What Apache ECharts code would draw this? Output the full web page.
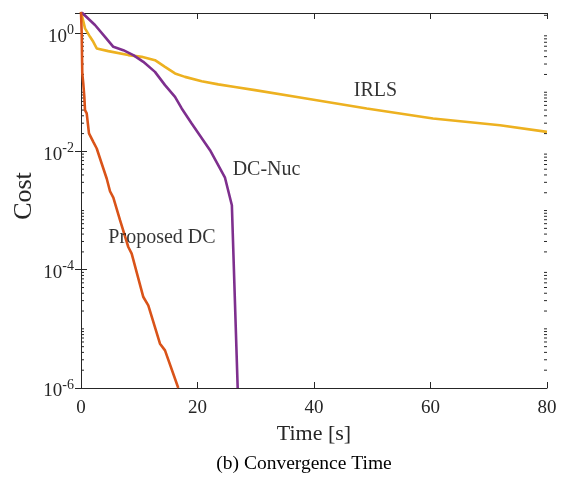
<!DOCTYPE html>
<html>
<head>
<meta charset="utf-8">
<script src="https://cdn.jsdelivr.net/npm/echarts@6/dist/echarts.min.js"></script>
<style>
html,body{margin:0;padding:0;background:#fff;}
#chart{width:565px;height:477px;}
</style>
</head>
<body>
<div id="chart"></div>
<script>
// ---- data ----
var irlsT = [0, 0.22, 0.69, 1.55, 2.11, 2.70, 4.69, 8.12, 10.42, 12.70, 14.42, 16.14, 17.85, 20.72, 23.57, 26.44, 29.87, 37.6, 49.05, 60.43, 71.93, 80];
var irlsC = [2.3, 2.15, 1.20, 0.866, 0.713, 0.551, 0.496, 0.425, 0.397, 0.349, 0.269, 0.208, 0.182, 0.154, 0.136, 0.123, 0.1086, 0.0816, 0.0532, 0.0360, 0.0277, 0.0214];

var dcT = [0, 2.40, 4.12, 5.55, 7.26, 8.98, 10.70, 12.70, 14.42, 16.14, 17.29, 19.0, 22.15, 24.72, 25.9, 26.9];
var dcC = [2.3, 1.37, 0.866, 0.586, 0.515, 0.425, 0.327, 0.221, 0.132, 0.0836, 0.0532, 0.0297, 0.0105, 0.00359, 0.00123, 1e-6];

var pdT = [0, 0.12, 0.22, 0.39, 0.57, 0.69, 0.98, 1.37, 2.11, 2.70, 3.55, 4.41, 4.98, 5.55, 6.70, 8.12, 8.70, 10.70, 11.55, 13.56, 14.42, 16.70];
var pdC = [2.3, 0.99, 0.208, 0.141, 0.0836, 0.0498, 0.0438, 0.0202, 0.0145, 0.0112, 0.00624, 0.00348, 0.00212, 0.00165, 6.86e-4, 2.42e-4, 1.87e-4, 3.45e-5, 2.50e-5, 5.62e-6, 4.33e-6, 1.0e-6];

var annTexts = ['IRLS', 'DC-Nuc', 'Proposed DC'];
var annX = [50.56, 31.85, 13.9];
var annY = [0.1044, 0.00496, 3.47e-4];

var xTicks = [0, 20, 40, 60, 80];
var yTickExps = [-6, -4, -2, 0];
var yMin = 1e-6, yMax = Math.pow(10, 0.34);
var captionText = '(b) Convergence Time';
var xName = 'Time [s]', yName = 'Cost';

// ---- helpers ----
function zip(a, b) { return a.map(function (v, i) { return [v, b[i]]; }); }
var minorVals = [];
for (var e = -6; e <= 0; e++) {
  for (var k = 1; k <= 9; k++) {
    if (k === 1 && yTickExps.indexOf(e) >= 0) continue;
    var v = k * Math.pow(10, e);
    if (v <= yMax) minorVals.push([0, v]);
  }
}

var FONT = '"Liberation Serif", "Times New Roman", serif';
var AX = '#262626';

var chart = echarts.init(document.getElementById('chart'), null, {renderer: 'canvas'});

function yLabel(v) {
  var l = Math.log10(v);
  var ex = Math.round(l);
  if (Math.abs(l - ex) > 1e-6 || yTickExps.indexOf(ex) < 0) return '';
  return '{b|10}{s|' + ex + '}';
}

var xAxisBase = {
  type: 'value', min: xTicks[0], max: xTicks[xTicks.length - 1], interval: 20,
  axisLine: {show: true, lineStyle: {color: AX, width: 1}},
  axisTick: {show: true, inside: true, length: 6, lineStyle: {color: AX}},
  splitLine: {show: false}
};
var yAxisBase = {
  type: 'log', logBase: 10, min: yMin, max: yMax, interval: 2,
  axisLine: {show: true, lineStyle: {color: AX, width: 1}},
  axisTick: {show: true, inside: true, length: 6, lineStyle: {color: AX}},
  splitLine: {show: false}
};

var option = {
  animation: false,
  backgroundColor: '#fff',
  grid: {left: 81, right: 18, top: 13, bottom: 89, containLabel: false, outerBoundsMode: 'none'},
  xAxis: [
    Object.assign({}, xAxisBase, {
      position: 'bottom',
      name: xName, nameLocation: 'middle', nameGap: 35, nameMoveOverlap: false,
      nameTextStyle: {fontFamily: FONT, fontSize: 22, color: AX},
      axisLabel: {fontFamily: FONT, fontSize: 19, color: AX, margin: 11,
        formatter: function (v) { return xTicks.indexOf(v) >= 0 ? String(v) : ''; }}
    }),
    Object.assign({}, xAxisBase, {position: 'top', axisLabel: {show: false}})
  ],
  yAxis: [
    Object.assign({}, yAxisBase, {
      position: 'left',
      name: yName, nameLocation: 'middle', nameGap: 44, nameRotate: 90, nameMoveOverlap: false,
      nameTextStyle: {fontFamily: FONT, fontSize: 26, color: AX, padding: [0, 0, 0, 9]},
      axisLabel: {
        margin: 7, showMaxLabel: false,
        formatter: yLabel,
        rich: {
          b: {fontFamily: FONT, fontSize: 19, color: AX, padding: [7, 0, 0, 0]},
          s: {fontFamily: FONT, fontSize: 14, color: AX, padding: [0, 0, 6, 0]}
        }
      }
    }),
    Object.assign({}, yAxisBase, {position: 'right', axisLabel: {show: false}})
  ],
  series: [
    {
      type: 'custom', xAxisIndex: 0, yAxisIndex: 0, silent: true, z: 1,
      data: minorVals,
      renderItem: function (params, api) {
        var cs = params.coordSys;
        var y = api.coord([0, api.value(1)])[1];
        var st = {stroke: AX, lineWidth: 1};
        return {
          type: 'group',
          children: [
            {type: 'line', shape: {x1: cs.x, y1: y, x2: cs.x + 3, y2: y}, style: st},
            {type: 'line', shape: {x1: cs.x + cs.width - 3, y1: y, x2: cs.x + cs.width, y2: y}, style: st}
          ]
        };
      }
    },
    {
      name: 'IRLS', type: 'line', data: zip(irlsT, irlsC), showSymbol: false, clip: true,
      lineStyle: {color: '#EDB120', width: 2.6}, itemStyle: {color: '#EDB120'}, z: 2
    },
    {
      name: 'DC-Nuc', type: 'line', data: zip(dcT, dcC), showSymbol: false, clip: true,
      lineStyle: {color: '#7E2F8E', width: 2.6}, itemStyle: {color: '#7E2F8E'}, z: 3
    },
    {
      name: 'Proposed DC', type: 'line', data: zip(pdT, pdC), showSymbol: false, clip: true,
      lineStyle: {color: '#D95319', width: 2.6}, itemStyle: {color: '#D95319'}, z: 4
    },
    {
      type: 'scatter', symbolSize: 0, silent: true, z: 5,
      data: annTexts.map(function (t, i) { return {value: [annX[i], annY[i]], name: t}; }),
      label: {show: true, position: 'inside', formatter: '{b}',
        fontFamily: FONT, fontSize: 20, color: '#000'}
    }
  ],
  graphic: [
    {type: 'text', x: 304, y: 464,
      style: {text: captionText, fontFamily: FONT, fontSize: 19.5, fill: '#000',
        align: 'center', verticalAlign: 'middle'}}
  ]
};
chart.setOption(option);
</script>
</body>
</html>
